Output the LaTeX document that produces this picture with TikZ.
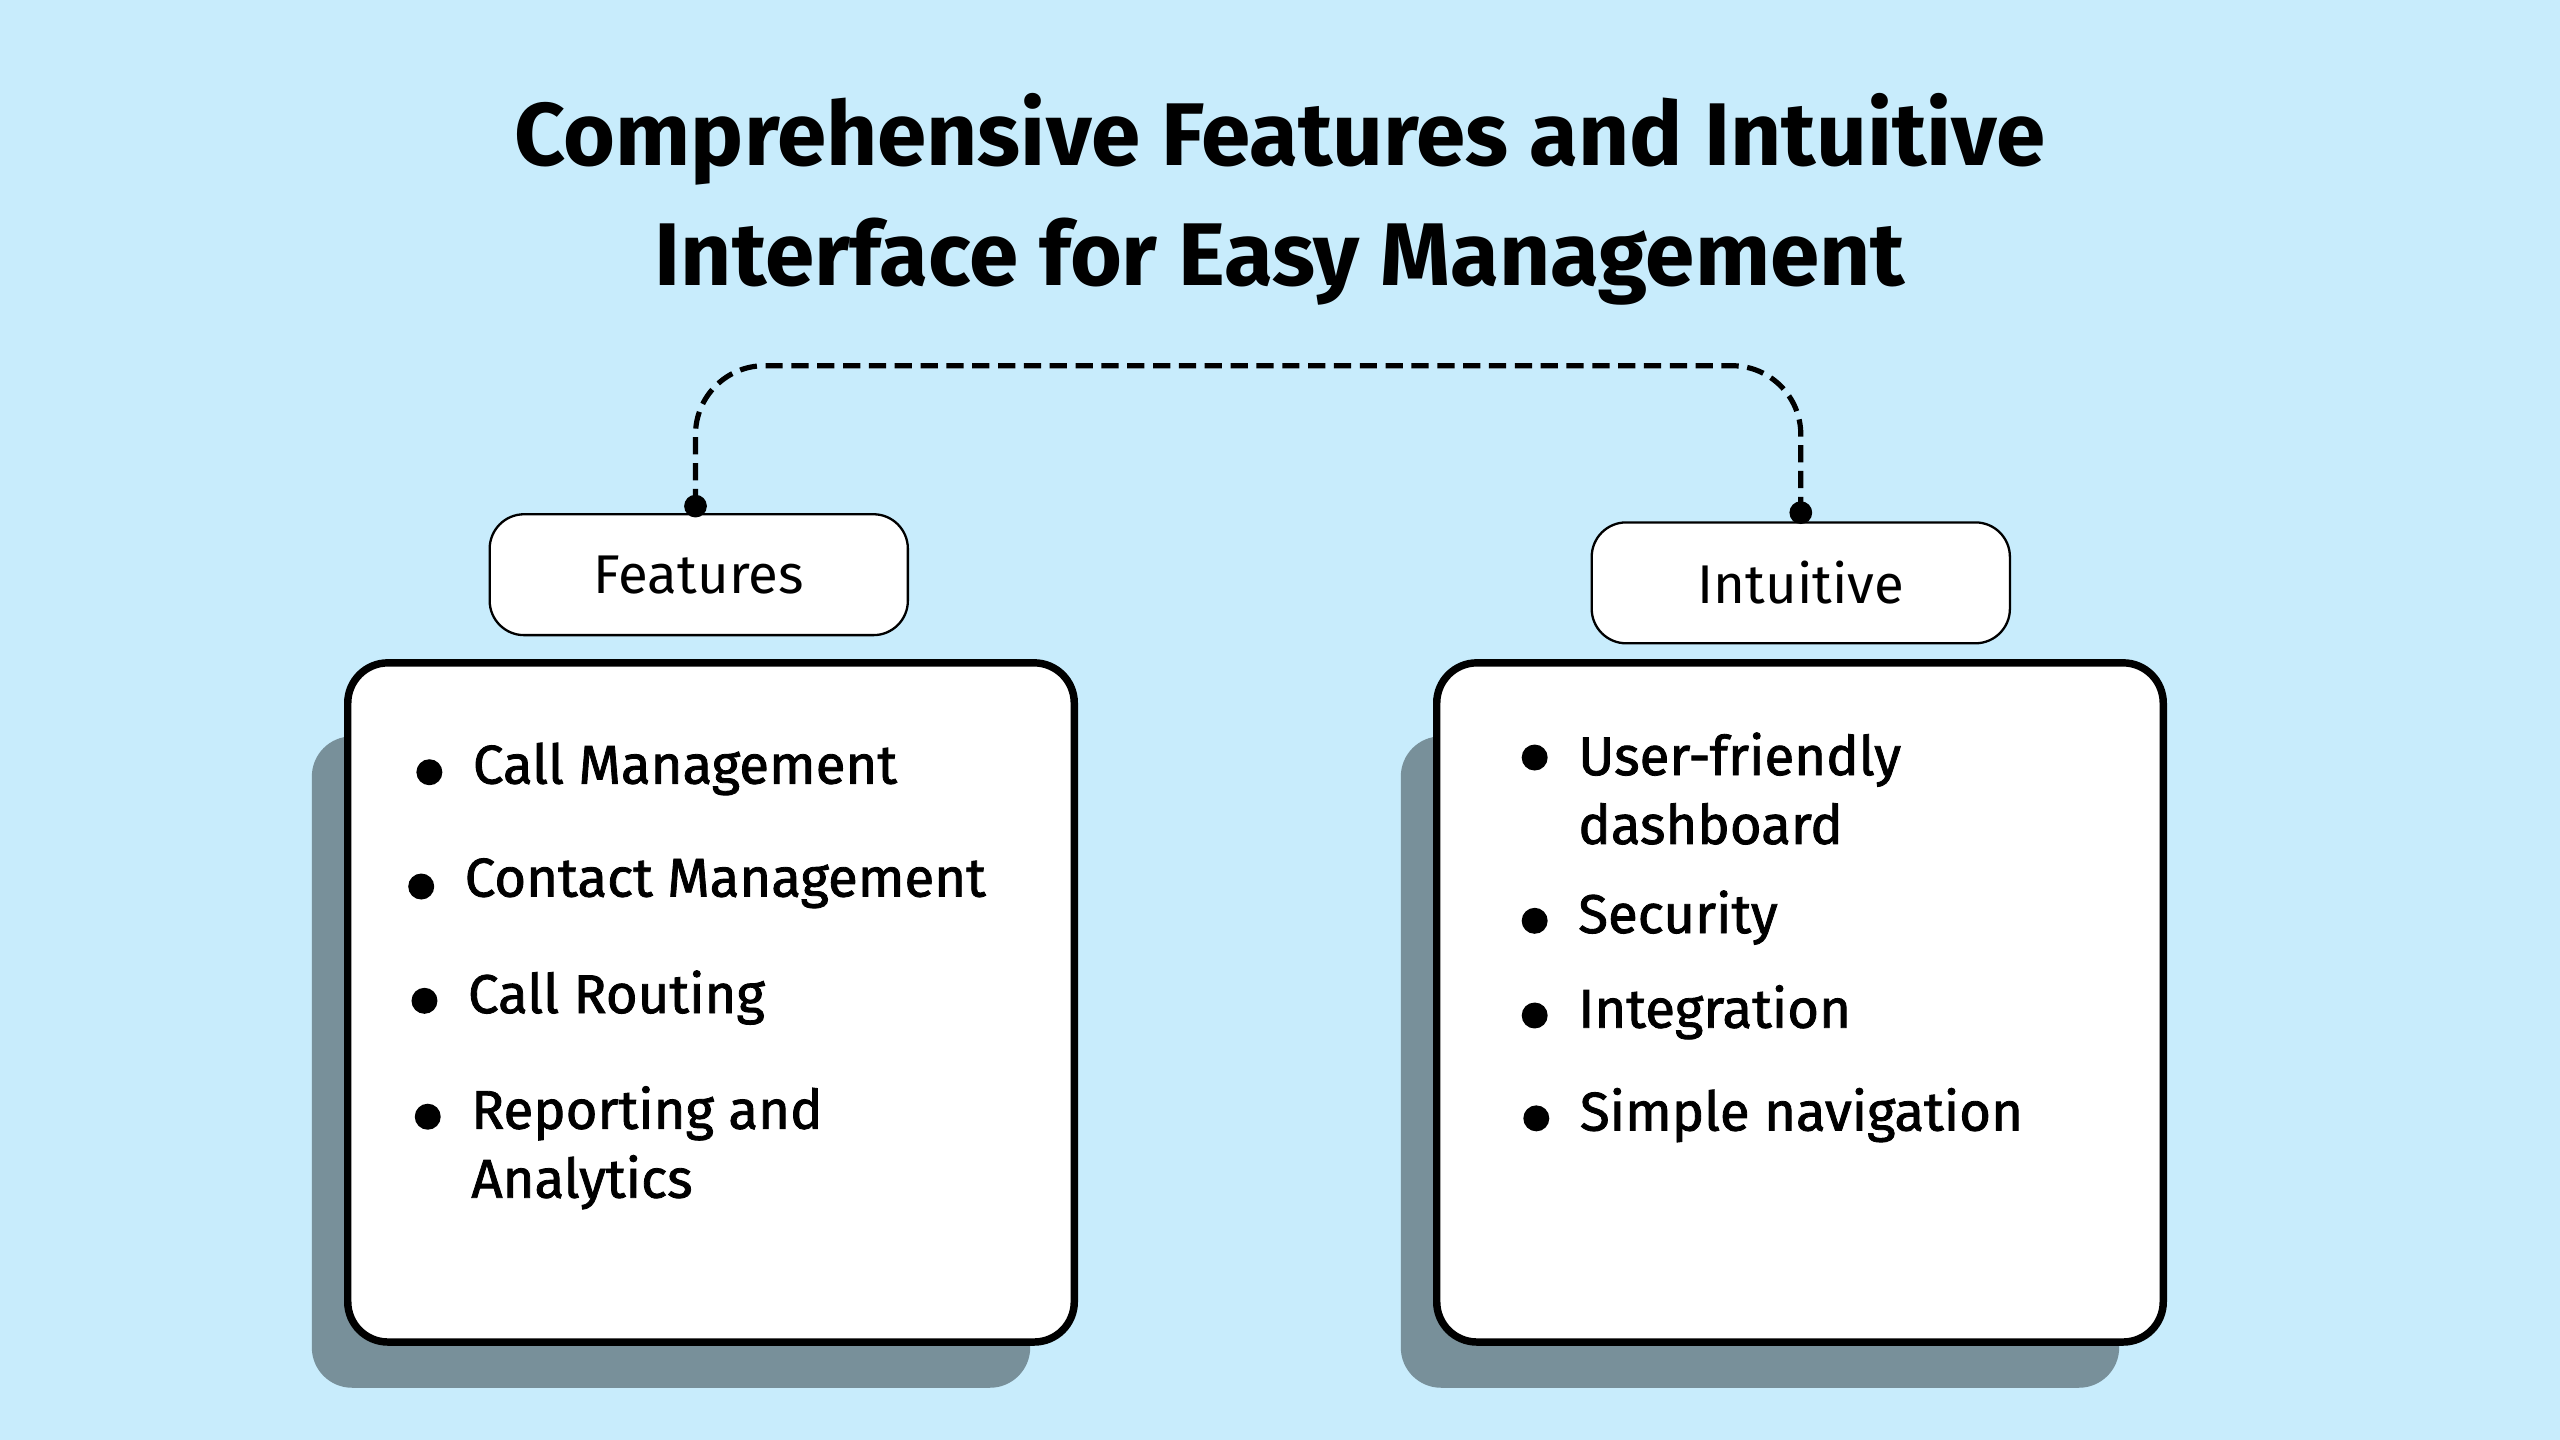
\documentclass[tikz,border=0pt]{standalone}
\usepackage{fontspec}
\setmainfont{Fira Sans}
\usetikzlibrary{positioning}
\definecolor{bgblue}{HTML}{C8ECFC}
\definecolor{shadowgray}{HTML}{78909A}
\tikzset{
  tag/.style={draw,rounded corners=6pt,fill=white,minimum width=2.56cm,minimum height=0.74cm,font=\fontsize{9.5}{12}\selectfont},
  panel/.style={draw,line width=1.3pt,rounded corners=7pt,fill=white},
  shade/.style={fill=shadowgray,rounded corners=7pt},
  item/.style={anchor=west,align=left,inner sep=0pt,font=\fontsize{9.5}{12}\selectfont\addfontfeature{FakeBold=1.5}},
  bullet/.style={circle,fill,inner sep=1.6pt},
  dot/.style={circle,fill,inner sep=1.4pt}
}
\begin{document}
\begin{tikzpicture}[x=0.01cm,y=-0.01cm]
\fill[bgblue] (0,0) rectangle (1568,882);
\useasboundingbox (0,0) rectangle (1568,882);
% title
\node[font=\fontsize{15.5}{21}\selectfont\bfseries,align=center] (title) at (784,122)
  {Comprehensive Features and Intuitive\\Interface for Easy Management};
% shadows and panels
\fill[shade] (191,451) rectangle (631,850);
\fill[shade] (858,451) rectangle (1298,850);
\draw[panel] (213,406) rectangle (658,822);
\draw[panel] (880,406) rectangle (1325,822);
% tags
\node[tag] (feat) at (428,352) {Features};
\node[tag] (intu) at (1103,357) {Intuitive};
% connector
\node[dot] (fdot) at (426,310) {};
\node[dot] (idot) at (1103,314) {};
\draw[line width=0.9pt,dash pattern=on 3pt off 1.5pt,rounded corners=12pt]
  (fdot.center) -- (426,224) -- (1103,224) -- (idot.center);
% left items
\node[bullet] (lb1) at (263,473) {};
\node[item] (l1) at (289,471) {Call Management};
\node[bullet] (lb2) at (258,543) {};
\node[item] (l2) at (284,541) {Contact Management};
\node[bullet] (lb3) at (260,613) {};
\node[item] (l3) at (286,611) {Call Routing};
\node[bullet] (lb4) at (262,684) {};
\node[item] (l4) at (288,703) {Reporting and\\Analytics};
% right items
\node[bullet] (rb1) at (940,464) {};
\node[item] (r1) at (966,483) {User-friendly\\dashboard};
\node[bullet] (rb2) at (940,564) {};
\node[item] (r2) at (966,562) {Security};
\node[bullet] (rb3) at (940,622) {};
\node[item] (r3) at (966,620) {Integration};
\node[bullet] (rb4) at (941,685) {};
\node[item] (r4) at (967,683) {Simple navigation};
\end{tikzpicture}
\end{document}
